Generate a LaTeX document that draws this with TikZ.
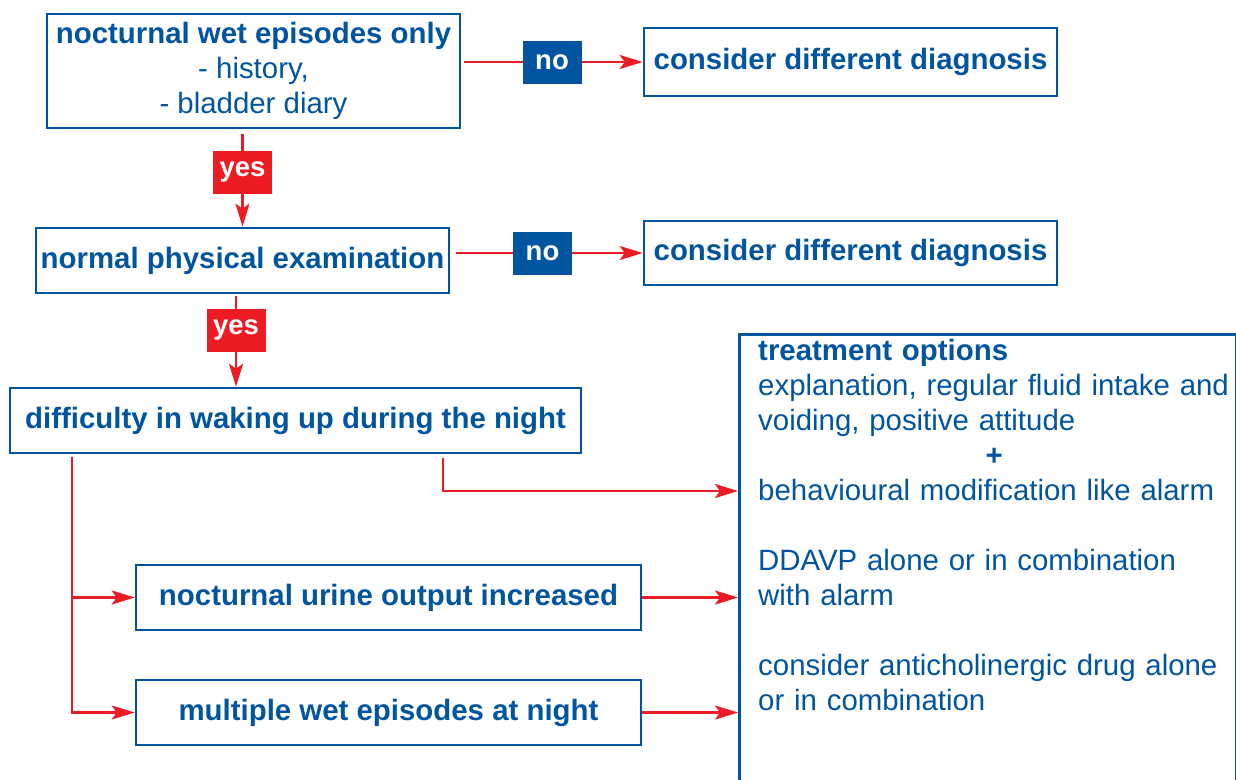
\documentclass[tikz,border=0pt]{standalone}
\usepackage{fontspec}
\setmainfont{Liberation Sans}
\usepackage{xcolor}
\usetikzlibrary{positioning,arrows.meta,calc}

\definecolor{flowblue}{RGB}{0,84,160}
\definecolor{flowred}{RGB}{237,28,36}

\begin{document}
\begin{tikzpicture}[
  x=1pt, y=-1pt,
  font=\fontsize{29.4}{35}\selectfont,
  >={Stealth[length=23pt,width=14pt,inset=5pt]},
  box/.style    ={rectangle, draw=flowblue, line width=2.6pt, text=flowblue,
                  align=center, inner sep=2pt, minimum height=65pt},
  ask/.style    ={box, font=\fontsize{29.4}{35}\selectfont\bfseries},
  tag/.style    ={rectangle, inner sep=0pt, minimum width=59pt, minimum height=43pt,
                  text=white, font=\fontsize{27.5}{27.5}\selectfont\bfseries},
  notag/.style  ={tag, fill=flowblue},
  yestag/.style ={tag, fill=flowred},
  arr/.style    ={->, draw=flowred, line width=2.4pt},
]
\useasboundingbox (0,0) rectangle (1236,779);

\def\cL{253.5}
\def\cR{850.5}
\def\cS{388.5}

% ---------- QUESTIONS (left column) ----------
\node[box, minimum width=413pt, minimum height=114pt] (wetonly) at (\cL,71)
  {\textbf{nocturnal wet episodes only}\\ - history,\\ - bladder diary};
\node[ask, minimum width=413pt] (exam)    at (242.5,260.5) {normal physical examination};
\node[ask, minimum width=571pt] (waking)  at (295.5,420.5) {difficulty in waking up during the night};
\node[ask, minimum width=505pt] (urine)   at (\cS,597.5) {nocturnal urine output increased};
\node[ask, minimum width=505pt] (multi)   at (\cS,712.5) {multiple wet episodes at night};

% ---------- OTHER DIAGNOSIS (right) ----------
\node[ask, minimum width=413pt, minimum height=68pt] (otherA) at (\cR,62)  {consider different diagnosis};
\node[ask, minimum width=413pt, minimum height=64pt] (otherB) at (\cR,253) {consider different diagnosis};

% ---------- TREATMENT ----------
\node[box, anchor=north west, minimum width=497pt, minimum height=480pt] (treat) at (738,333) {};
\node[anchor=base west, inner sep=0pt, text width=472pt, align=left, text=flowblue] (treattext) at (758,360)
  {\textbf{treatment options}\\
   explanation, regular fluid intake and\\
   voiding, positive attitude\\
   \mbox{}\hfill\textbf{+}\hfill\mbox{}\\
   behavioural modification like alarm\\[35pt]
   DDAVP alone or in combination\\
   with alarm\\[35pt]
   consider anticholinergic drug alone\\
   or in combination};

% ---------- ARROWS ----------
\draw[arr, shorten <=3pt] (wetonly.east |- otherA) -- node[notag] {no} (otherA);
\draw[arr, shorten <=6pt] (exam.east |- otherB) -- node[notag, xshift=-4pt] {no} (otherB);
\draw[arr, shorten <=5pt] (exam.north |- wetonly.south) -- node[yestag, pos=0.44] {yes} (exam.north);
\draw[arr, shorten <=2pt] ([xshift=-6.5pt]exam.south) -- node[yestag, pos=0.39] {yes}
  ([xshift=-6.5pt]exam.south |- waking.north);

\coordinate (tap) at (72,453);
\draw[arr, shorten <=4pt] ([xshift=147.5pt]waking.south) |- (treat.west |- 0,491);
\draw[arr, shorten <=4pt] (tap) |- (multi.west);
\draw[arr] (tap |- urine) -- (urine.west);
\draw[arr] (urine) -- (urine -| treat.west);
\draw[arr] (multi) -- (multi -| treat.west);

\end{tikzpicture}
\end{document}
